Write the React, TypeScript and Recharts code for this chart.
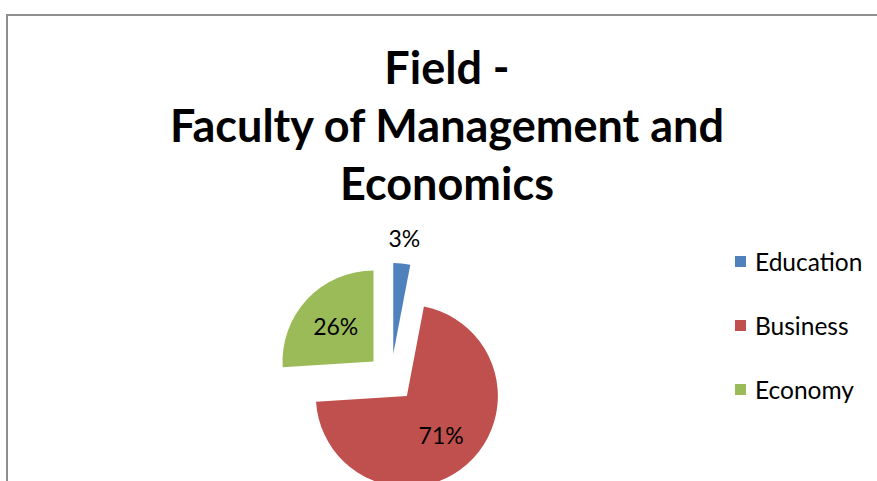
import React from 'react';
import { PieChart, Pie, Cell, Sector, Legend } from 'recharts';

const categories = ['Education', 'Business', 'Economy'];
const shares = [3, 71, 26];
const colors = ['#4F81BD', '#C0504D', '#9BBB59'];
const titleLines = ['Field -', 'Faculty of Management and', 'Economics'];

const data = categories.map((name, i) => ({ name, value: shares[i] }));

const RADIAN = Math.PI / 180;
const EXPLODE = 24;
const FONT = 'Lato, "Open Sans", sans-serif';

// pull each slice out along its own bisector
const ExplodedSlice = (props: any) => {
  const { cx, cy, midAngle } = props;
  const dx = EXPLODE * Math.cos(-midAngle * RADIAN);
  const dy = EXPLODE * Math.sin(-midAngle * RADIAN);
  return <Sector {...props} cx={cx + dx} cy={cy + dy} />;
};

const renderLabel = (props: any) => {
  const { cx, cy, midAngle, outerRadius, percent } = props;
  const ox = cx + EXPLODE * Math.cos(-midAngle * RADIAN);
  const oy = cy + EXPLODE * Math.sin(-midAngle * RADIAN);
  const r = percent < 0.05 ? outerRadius + 26 : outerRadius * 0.57;
  const x = ox + r * Math.cos(-midAngle * RADIAN);
  const y = oy + r * Math.sin(-midAngle * RADIAN);
  return (
    <text x={x} y={y} textAnchor="middle" dominantBaseline="central" fill="#000" fontSize={23} fontFamily={FONT}>
      {`${Math.round(percent * 100)}%`}
    </text>
  );
};

const renderLegend = () => (
  <div style={{ fontFamily: FONT, fontSize: 24.5, color: '#000' }}>
    {categories.map((c, i) => (
      <div key={c} style={{ display: 'flex', alignItems: 'center', height: 64 }}>
        <span style={{ width: 11, height: 11, background: colors[i], marginRight: 9, display: 'inline-block' }} />
        <span>{c}</span>
      </div>
    ))}
  </div>
);

export default function App() {
  return (
    <div style={{ position: 'absolute', left: 0, top: 0, width: 877, height: 481, overflow: 'hidden', background: '#fff' }}>
      <div
        style={{
          position: 'absolute',
          left: 6,
          top: 14,
          width: 900,
          height: 500,
          borderLeft: '2px solid #8e8e8e',
          borderTop: '2px solid #8e8e8e',
        }}
      />
      <div
        style={{
          position: 'absolute',
          left: 0,
          top: 38,
          width: 894,
          textAlign: 'center',
          fontFamily: FONT,
          fontWeight: 'bold',
          fontSize: 45,
          lineHeight: '58px',
          color: '#000',
        }}
      >
        {titleLines.map((t) => (
          <div key={t}>{t}</div>
        ))}
      </div>
      <div style={{ position: 'absolute', left: 0, top: 0 }}>
        <PieChart width={877} height={481}>
          <Pie
            data={data}
            dataKey="value"
            nameKey="name"
            cx={386}
            cy={373}
            outerRadius={91}
            startAngle={90}
            endAngle={-270}
            stroke="none"
            shape={ExplodedSlice}
            activeShape={ExplodedSlice}
            inactiveShape={ExplodedSlice}
            label={renderLabel}
            labelLine={false}
            isAnimationActive={false}
          >
            {data.map((d, i) => (
              <Cell key={d.name} fill={colors[i]} />
            ))}
          </Pie>
          <Legend
            layout="vertical"
            content={renderLegend}
            wrapperStyle={{ position: 'absolute', left: 735, top: 229, width: 140 }}
          />
        </PieChart>
      </div>
    </div>
  );
}
